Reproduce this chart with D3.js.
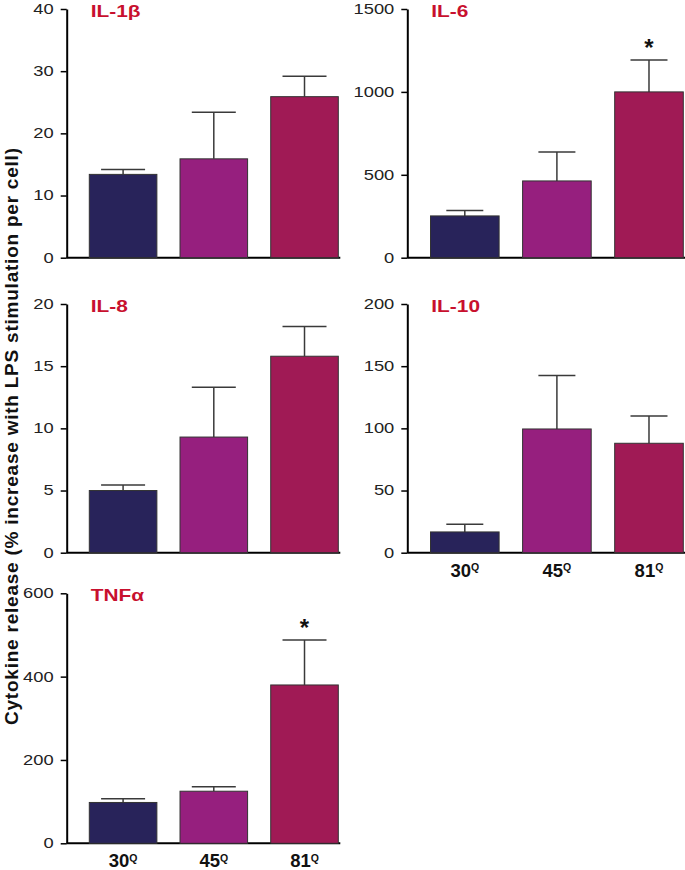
<!DOCTYPE html>
<html>
<head>
<meta charset="utf-8">
<script src="https://cdn.jsdelivr.net/npm/d3@7"></script>
<style>
  html, body { margin: 0; padding: 0; background: #fff; }
  svg { display: block; }
  text { font-family: "Liberation Sans", Arial, Helvetica, sans-serif; }
</style>
</head>
<body>
<svg id="chart" width="685" height="870"></svg>
<script>
// ---------- Data ----------
const groups = ["30", "45", "81"];
const groupColors = ["#28235a", "#961f7e", "#a01a55"];

const il1bMean  = [13.4, 15.9, 25.9];
const il1bUpper = [14.2, 23.4, 29.2];
const il1bTicks = [0, 10, 20, 30, 40];

const il6Mean  = [252, 463, 1000];
const il6Upper = [284, 638, 1192];
const il6Ticks = [0, 500, 1000, 1500];

const il8Mean  = [5.0, 9.3, 15.8];
const il8Upper = [5.45, 13.3, 18.2];
const il8Ticks = [0, 5, 10, 15, 20];

const il10Mean  = [16.7, 99.5, 88];
const il10Upper = [22.9, 142.5, 110];
const il10Ticks = [0, 50, 100, 150, 200];

const tnfMean  = [98, 125, 380];
const tnfUpper = [107, 136, 488];
const tnfTicks = [0, 200, 400, 600];

const panels = [
  { title: "IL-1β", mean: il1bMean, upper: il1bUpper, ticks: il1bTicks, col: 0, row: 0, stars: [false, false, false], xlabels: false },
  { title: "IL-6",  mean: il6Mean,  upper: il6Upper,  ticks: il6Ticks,  col: 1, row: 0, stars: [false, false, true],  xlabels: false },
  { title: "IL-8",  mean: il8Mean,  upper: il8Upper,  ticks: il8Ticks,  col: 0, row: 1, stars: [false, false, false], xlabels: false },
  { title: "IL-10", mean: il10Mean, upper: il10Upper, ticks: il10Ticks, col: 1, row: 1, stars: [false, false, false], xlabels: true },
  { title: "TNFα",  mean: tnfMean,  upper: tnfUpper,  ticks: tnfTicks,  col: 0, row: 2, stars: [false, false, true],  xlabels: true }
];

const yLabel = "Cytokine release (% increase with LPS stimulation per cell)";

// ---------- Layout ----------
const cols = [
  { axisX: 66.7,  x0: 89.3,  x1: 338.3, cap: 44 },
  { axisX: 407.3, x0: 430.5, x1: 683.3, cap: 37 }
];
const rows = [
  { top: 9,     bottom: 257.7 },
  { top: 304,   bottom: 552.7 },
  { top: 593.3, bottom: 843.3 }
];

const svg = d3.select("#chart");

panels.forEach(p => {
  const c = cols[p.col], r = rows[p.row];
  const g = svg.append("g");
  const x = d3.scaleBand().domain(groups).range([c.x0, c.x1]).paddingInner(0.255).paddingOuter(0);
  const y = d3.scaleLinear().domain([0, d3.max(p.ticks)]).range([r.bottom, r.top]);

  // y axis
  const ax = g.append("g")
    .attr("transform", `translate(${c.axisX},0)`)
    .call(d3.axisLeft(y).tickValues(p.ticks).tickSize(6).tickSizeOuter(0).tickFormat(d3.format("d")));
  ax.select(".domain").attr("stroke", "#000").attr("stroke-width", 2);
  ax.selectAll(".tick line").attr("stroke", "#000").attr("stroke-width", 1.5);
  ax.selectAll(".tick text")
    .attr("x", null)
    .attr("fill", "#222")
    .style("font-size", "13.8px")
    .attr("transform", "translate(-13,0) scale(1.33,1)");

  // baseline
  g.append("line")
    .attr("x1", c.axisX).attr("x2", c.x1 + 2)
    .attr("y1", y(0)).attr("y2", y(0))
    .attr("stroke", "#000").attr("stroke-width", 2);

  // error bars
  const eb = g.append("g").attr("stroke", "#3a3a3a").attr("stroke-width", 1.5).attr("fill", "none");
  groups.forEach((k, i) => {
    const cx = x(k) + x.bandwidth() / 2;
    eb.append("line").attr("x1", cx).attr("x2", cx).attr("y1", y(p.mean[i])).attr("y2", y(p.upper[i]));
    eb.append("line").attr("x1", cx - c.cap / 2).attr("x2", cx + c.cap / 2).attr("y1", y(p.upper[i])).attr("y2", y(p.upper[i]));
  });

  // bars
  g.selectAll("rect.bar").data(groups).enter().append("rect")
    .attr("class", "bar")
    .attr("x", d => x(d))
    .attr("width", x.bandwidth())
    .attr("y", (d, i) => y(p.mean[i]))
    .attr("height", (d, i) => y(0) - y(p.mean[i]))
    .attr("fill", (d, i) => groupColors[i])
    .attr("stroke", "#333")
    .attr("stroke-width", 1);

  // stars
  groups.forEach((k, i) => {
    if (p.stars[i]) {
      g.append("text")
        .attr("x", x(k) + x.bandwidth() / 2)
        .attr("y", y(p.upper[i]) - 4)
        .attr("text-anchor", "middle")
        .style("font-size", "24px").style("font-weight", "bold")
        .attr("fill", "#111")
        .text("*");
    }
  });

  // title
  g.append("text")
    .attr("transform", `translate(${c.axisX + 24},${r.top + 7.5}) scale(1.32,1)`)
    .style("font-size", "15.8px").style("font-weight", "bold")
    .attr("fill", "#c8102e")
    .text(p.title);

  // x labels
  if (p.xlabels) {
    groups.forEach(k => {
      const t = g.append("text")
        .attr("x", x(k) + x.bandwidth() / 2)
        .attr("y", y(0) + 24)
        .attr("text-anchor", "middle")
        .style("font-size", "18.5px").style("font-weight", "bold")
        .attr("fill", "#111");
      t.append("tspan").text(k);
      t.append("tspan").attr("dy", -5.8).style("font-size", "10.5px").text("Q");
    });
  }
});

// y-axis label
svg.append("text")
  .attr("transform", "translate(18,436.5) rotate(-90)")
  .attr("text-anchor", "middle")
  .attr("textLength", 577)
  .attr("lengthAdjust", "spacing")
  .style("font-size", "19px").style("font-weight", "bold")
  .attr("fill", "#111")
  .text(yLabel);
</script>
</body>
</html>
